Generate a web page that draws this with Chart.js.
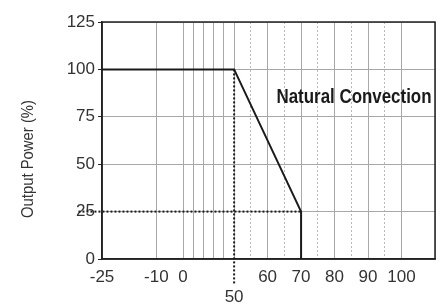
<!DOCTYPE html>
<html>
<head>
<meta charset="utf-8">
<script src="https://cdn.jsdelivr.net/npm/chart.js@4.4.0/dist/chart.umd.min.js"></script>
<style>
  html, body { margin: 0; padding: 0; background: #fff; }
  canvas { display: block; }
</style>
</head>
<body>
<canvas id="derating" width="443" height="305"></canvas>
<script>
/******************************************* data **/
// derating curve (ambient temp in C, load in %)
const curveTemp = [-25, 50, 70, 70];
const curveLoad = [100, 100, 25, 0];

// dotted guide lines
const guideVTemp = [50, 50];
const guideVLoad = [100, -13];
const guideHTemp = [-31.5, 70];
const guideHLoad = [25, 25];

// ticks
const xTicks = [-25, -10, 0, 10, 20, 30, 40, 50, 55, 60, 65, 70, 75, 80, 85, 90, 95, 100, 110];
const xLabels = [-25, -10, 0, 60, 70, 80, 90, 100];
const dashedTicks = [55, 65, 75, 85, 95];
const yTicks = [0, 25, 50, 75, 100, 125];

/******************************************* helpers **/
const FONT = "'Liberation Sans', Arial, sans-serif";

// the datasheet axis is stretched differently in each range
const axisTemp = [-25, -10, 0, 50, 110];
const axisPos = [0, 55, 82, 133.7, 337];

function tempToFrac(t) {
  let i = 1;
  while (i < axisTemp.length - 1 && t > axisTemp[i]) i++;
  const t0 = axisTemp[i - 1], t1 = axisTemp[i];
  const p = axisPos[i - 1] + (t - t0) / (t1 - t0) * (axisPos[i] - axisPos[i - 1]);
  return p / axisPos[axisPos.length - 1];
}

function fracToTemp(f) {
  const p = f * axisPos[axisPos.length - 1];
  let i = 1;
  while (i < axisPos.length - 1 && p > axisPos[i]) i++;
  const p0 = axisPos[i - 1], p1 = axisPos[i];
  return axisTemp[i - 1] + (p - p0) / (p1 - p0) * (axisTemp[i] - axisTemp[i - 1]);
}

class DeratingScale extends Chart.LinearScale {
  static id = "derating";
  static defaults = Chart.LinearScale.defaults;
  getPixelForValue(value) {
    return this.left + this.width * tempToFrac(value);
  }
  getValueForPixel(pixel) {
    return fracToTemp((pixel - this.left) / this.width);
  }
}
Chart.register(DeratingScale);

// condensed look: squeeze text to a given width
function narrowText(ctx, text, x, y, width) {
  const w = ctx.measureText(text).width;
  ctx.save();
  ctx.translate(x, y);
  ctx.scale(width / w, 1);
  ctx.fillText(text, 0, 0);
  ctx.restore();
}

// box + extra labels
const extras = {
  id: "extras",
  beforeDatasetsDraw(chart) {
    const { ctx, chartArea: a } = chart;
    ctx.save();
    ctx.strokeStyle = "#222";
    ctx.lineWidth = 1.5;
    ctx.strokeRect(a.left, a.top, a.right - a.left, a.bottom - a.top);
    ctx.restore();
  },
  afterDraw(chart) {
    const { ctx, scales } = chart;
    ctx.save();
    ctx.textAlign = "center";
    ctx.textBaseline = "middle";

    ctx.fillStyle = "#1a1a1a";
    ctx.font = "bold 20px " + FONT;
    narrowText(ctx, "Natural Convection", 354, 97, 155);

    ctx.fillStyle = "#333";
    ctx.font = "17px " + FONT;
    ctx.fillText("50", scales.x.getPixelForValue(50), 297);

    ctx.translate(29, 159);
    ctx.rotate(-Math.PI / 2);
    ctx.font = "16px " + FONT;
    narrowText(ctx, "Output Power (%)", 0, 0, 118);
    ctx.restore();
  },
};

const toPoints = (xs, ys) => xs.map((x, i) => ({ x: x, y: ys[i] }));

const dotted = {
  borderColor: "#1a1a1a",
  borderWidth: 2,
  borderDash: [2, 2],
  pointRadius: 0,
  clip: false,
};

/******************************************* chart **/
new Chart(document.getElementById("derating"), {
  type: "line",
  data: {
    datasets: [
      {
        data: toPoints(curveTemp, curveLoad),
        borderColor: "#1a1a1a",
        borderWidth: 2,
        pointRadius: 0,
        tension: 0,
      },
      { ...dotted, data: toPoints(guideVTemp, guideVLoad) },
      { ...dotted, data: toPoints(guideHTemp, guideHLoad) },
    ],
  },
  options: {
    responsive: false,
    devicePixelRatio: 1,
    animation: false,
    layout: { padding: { top: 22, right: 4, bottom: 0, left: 0 } },
    plugins: { legend: { display: false }, tooltip: { enabled: false } },
    scales: {
      x: {
        type: "derating",
        min: -25,
        max: 110,
        afterBuildTicks: (scale) => {
          scale.ticks = xTicks.map((v) => ({ value: v }));
        },
        afterFit: (scale) => {
          scale.height = 46;
        },
        ticks: {
          autoSkip: false,
          maxRotation: 0,
          padding: 8,
          color: "#333",
          font: { family: FONT, size: 17 },
          callback: (v) => (xLabels.includes(v) ? String(v) : ""),
        },
        grid: {
          drawTicks: false,
          lineWidth: 1,
          color: (c) => (c.tick && dashedTicks.includes(c.tick.value) ? "#b8b8b8" : "#a8a8a8"),
        },
        border: {
          color: "#222",
          width: 1.5,
          dash: (c) => (c.tick && dashedTicks.includes(c.tick.value) ? [2, 2] : []),
        },
      },
      y: {
        min: 0,
        max: 125,
        afterBuildTicks: (scale) => {
          scale.ticks = yTicks.map((v) => ({ value: v }));
        },
        afterFit: (scale) => {
          scale.width = 102;
        },
        ticks: {
          padding: 3,
          color: "#333",
          font: { family: FONT, size: 17 },
        },
        grid: {
          color: "#a8a8a8",
          lineWidth: 1,
          tickLength: 4,
          // the 25% tick is covered by the dotted guide
          tickColor: (c) => (c.tick && c.tick.value === 25 ? "rgba(0,0,0,0)" : "#222"),
        },
        border: { color: "#222", width: 1.5 },
      },
    },
  },
  plugins: [extras],
});
</script>
</body>
</html>
